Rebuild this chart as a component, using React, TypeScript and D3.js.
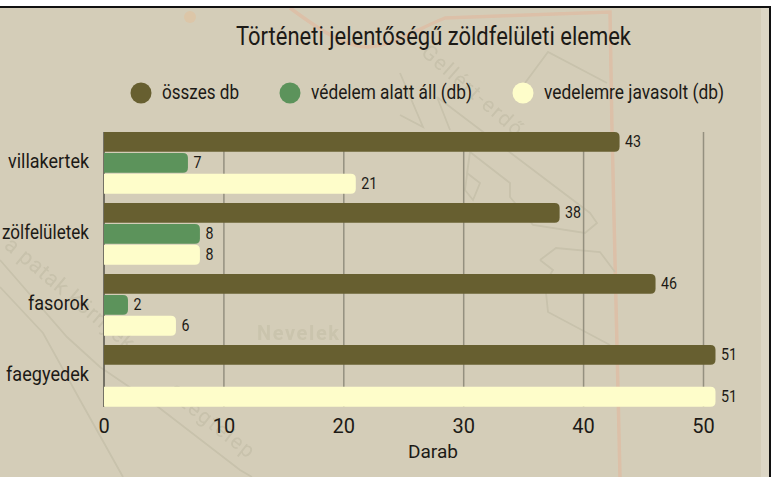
import React from "react";
import * as d3 from "d3";

const categories = ["villakertek", "zölfelületek", "fasorok", "faegyedek"];
const seriesNames = ["összes db", "védelem alatt áll (db)", "vedelemre javasolt (db)"];
const osszes = [43, 38, 46, 51];
const vedett = [7, 8, 2, 0];
const javasolt = [21, 8, 6, 51];
const colors = ["#675f30", "#5c935b", "#fefdca"];
const xTicks = [0, 10, 20, 30, 40, 50];
const legendX = [141, 290, 523];
const legendTextX = [162, 311, 544];
const legendTextW = [77, 161, 180];
const catTextW = [81, 87, 61, 83];

const FONT = "Roboto, sans-serif";
const INK = "#1c1a16";

const x = d3.scaleLinear().domain([0, 50]).range([104, 703.5]);
const y = d3.scaleBand().domain(categories).range([132, 416]);
const inner = d3.scaleBand().domain(seriesNames).range([0, 61.7]).paddingInner(0.05);

function barPath(y0: number, h: number, v: number) {
  const x0 = x(0), x1 = x(v), r = Math.min(5, x1 - x0);
  return `M${x0},${y0}H${x1 - r}Q${x1},${y0} ${x1},${y0 + r}V${y0 + h - r}Q${x1},${y0 + h} ${x1 - r},${y0 + h}H${x0}Z`;
}

function Background() {
  const map = "#c8c2ac";
  return (
    <g fill="none">
      <defs>
        <filter id="soft" x="-5%" y="-5%" width="110%" height="110%">
          <feGaussianBlur stdDeviation="0.6" />
        </filter>
      </defs>
      <rect x={0} y={8} width={769} height={469} fill="#d4cdb8" />
      <rect x={761} y={8} width={8} height={469} fill="#dcd6c5" />
      <g filter="url(#soft)">
        <path d="M290,8 C320,30 345,47 368,47 C395,45 415,30 445,18 L610,12 L612,130 L620,477" stroke="#dcc0a8" strokeWidth={3.5} />
        <circle cx={190} cy={17} r={6} fill="#dcc6a8" />
        <g stroke={map} strokeWidth={1.8}>
          <path d="M0,260 L67,337 L100,367 L153,403 L240,470 L252,477" />
          <path d="M0,287 L43,333 L80,400 L123,477" />
          <path d="M525,83 L548,52 L607,83" />
          <path d="M437,97 L590,213 L597,223 L585,233 L533,225 L510,197 L510,183 L470,152" />
          <path d="M470,152 L467,173 L480,183 L473,200 L465,190 Z" />
          <path d="M400,73 L423,127 L400,115 M437,97 L450,130" />
          <path d="M540,260 L556,248 L600,252 L615,272 M540,260 L553,270 L545,283 L548,312 L610,345" />
        </g>
        <g fill={map} fontFamily={FONT} stroke="none">
          <text x={420} y={54} fontSize={21} transform="rotate(41 420 54)" letterSpacing={1.6}>Gellért-erdő</text>
          <text x={3} y={247} fontSize={22} transform="rotate(40 3 247)" letterSpacing={0.6}>a patak környéke</text>
          <text x={166} y={395} fontSize={21} transform="rotate(38 166 395)" letterSpacing={1.5}>Szegtelep</text>
          <text x={257} y={340} fontSize={20} fontWeight={700} letterSpacing={1.6} fill="#cac4ad">Nevelek</text>
        </g>
      </g>
    </g>
  );
}

export default function App() {
  const series = [osszes, vedett, javasolt];
  return (
    <svg
      width={775}
      height={477}
      style={{ position: "fixed", left: 0, top: 0, background: "#fff" }}
      fontFamily={FONT}
    >
      <Background />
      <rect x={0} y={6} width={771} height={2} fill="#111" />
      <rect x={769} y={6} width={2} height={471} fill="#111" />

      <text x={236} y={45} fontSize={25} fill={INK} textLength={395} lengthAdjust="spacingAndGlyphs">
        Történeti jelentőségű zöldfelületi elemek
      </text>

      {seriesNames.map((s, i) => (
        <g key={s}>
          <circle cx={legendX[i]} cy={93} r={10.5} fill={colors[i]} />
          <text x={legendTextX[i]} y={99} fontSize={19.5} fill={INK} textLength={legendTextW[i]} lengthAdjust="spacingAndGlyphs">
            {s}
          </text>
        </g>
      ))}

      {xTicks.map((t) => (
        <g key={t}>
          <line x1={x(t)} x2={x(t)} y1={132} y2={407} stroke={t === 0 ? "#55524a" : "#94907f"} strokeWidth={1.5} />
          <text x={x(t)} y={432.5} fontSize={20} textAnchor="middle" fill={INK}>{t}</text>
        </g>
      ))}
      <text x={408} y={457.5} fontSize={18.5} fill={INK} textLength={50} lengthAdjust="spacingAndGlyphs">Darab</text>

      {categories.map((c, ci) => (
        <g key={c}>
          <text x={89 - catTextW[ci]} y={(y(c) as number) + 36} fontSize={20} fill={INK} textLength={catTextW[ci]} lengthAdjust="spacingAndGlyphs">
            {c}
          </text>
          {seriesNames.map((s, si) => {
            const v = series[si][ci];
            if (!v) return null;
            const y0 = (y(c) as number) + (inner(s) as number);
            const h = inner.bandwidth();
            const label = String(v);
            return (
              <g key={s}>
                <path d={barPath(y0, h, v)} fill={colors[si]} />
                <text x={x(v) + 5.5} y={y0 + h / 2 + 5.5} fontSize={16} fill={INK} textLength={label.length * 8} lengthAdjust="spacingAndGlyphs">{label}</text>
              </g>
            );
          })}
        </g>
      ))}
    </svg>
  );
}
